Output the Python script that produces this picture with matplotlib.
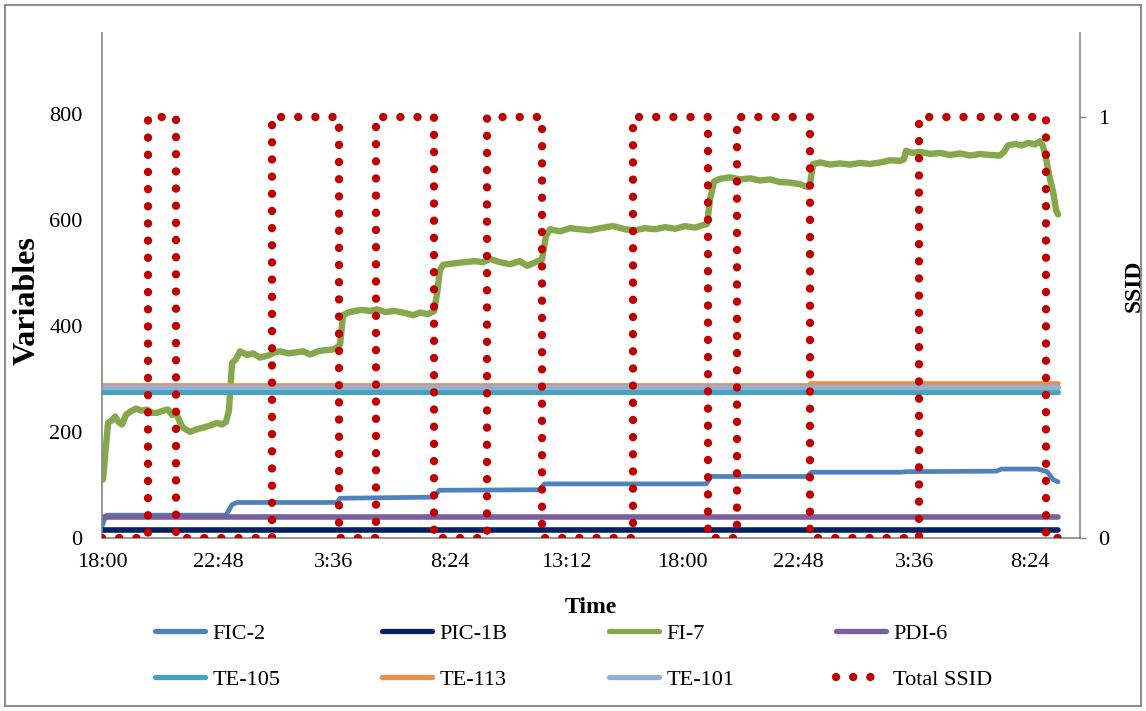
import matplotlib
matplotlib.use("Agg")
import matplotlib.pyplot as plt
from matplotlib.lines import Line2D
from matplotlib.patches import Rectangle

plt.rcParams["font.family"] = ["Liberation Serif", "DejaVu Serif"]

# time axis: hours after 18:00 on day one
tick_hours = [0, 4.8, 9.6, 14.4, 19.2, 24.0, 28.8, 33.6, 38.4]
tick_labels = ["18:00", "22:48", "3:36", "8:24", "13:12", "18:00", "22:48", "3:36", "8:24"]

# FI-7 (flow)
fi7_t = [0.04, 0.12, 0.25, 0.41, 0.54, 0.70, 0.83, 0.99, 1.16, 1.41, 1.65, 1.86, 2.07, 2.28,
         2.52, 2.73, 2.90, 3.06, 3.23, 3.35, 3.64, 3.93, 4.18, 4.47, 4.76, 4.96, 5.13, 5.25,
         5.38, 5.54, 5.71, 6.00, 6.25, 6.54, 6.87, 7.16, 7.36, 7.70, 8.03, 8.32, 8.61, 8.94,
         9.23, 9.52, 9.72, 9.85, 9.97, 10.18, 10.47, 10.76, 11.09, 11.38, 11.71, 12.12, 12.54,
         12.87, 13.16, 13.49, 13.74, 13.86, 13.98, 14.11, 14.27, 14.60, 15.02, 15.43, 15.76,
         16.05, 16.47, 16.88, 17.29, 17.58, 17.83, 18.04, 18.20, 18.37, 18.54, 18.95, 19.36,
         19.78, 20.19, 20.60, 21.14, 21.64, 22.05, 22.47, 22.88, 23.29, 23.71, 24.12, 24.53,
         24.87, 25.03, 25.16, 25.32, 25.57, 25.98, 26.40, 26.81, 27.22, 27.64, 28.05, 28.46,
         28.88, 29.17, 29.29, 29.42, 29.71, 30.12, 30.53, 30.95, 31.36, 31.78, 32.19, 32.60,
         33.02, 33.18, 33.26, 33.51, 33.84, 34.26, 34.67, 35.08, 35.50, 35.91, 36.33, 36.74,
         37.15, 37.32, 37.48, 37.77, 38.06, 38.31, 38.60, 38.81, 38.93, 39.06, 39.18, 39.35,
         39.47, 39.55]
fi7_v = [110, 150, 217, 222, 229, 218, 214, 232, 238, 244, 240, 242, 236, 236,
         240, 242, 232, 236, 218, 208, 200, 205, 208, 212, 217, 214, 219, 240,
         330, 337, 352, 345, 348, 340, 344, 350, 352, 348, 350, 352, 346, 352,
         354, 355, 359, 365, 420, 425, 428, 430, 428, 431, 426, 428, 424,
         420, 425, 422, 428, 460, 505, 515, 516, 518, 520, 522, 520,
         526, 520, 516, 522, 513, 518, 522, 525, 570, 582, 578, 584,
         582, 580, 584, 588, 582, 580, 584, 582, 586, 583, 588, 585,
         590, 592, 640, 672, 677, 680, 676, 678, 674, 676, 671, 670,
         667, 662, 668, 705, 708, 704, 706, 704, 707, 705, 708, 712,
         711, 714, 730, 726, 728, 724, 726, 722, 725, 721, 724, 722,
         721, 728, 740, 743, 740, 745, 742, 748, 738, 715, 685, 652,
         618, 610]

# FIC-2 (steps)
fic2_t = [0.0, 0.1, 0.2, 5.13, 5.38, 5.6, 9.72, 9.85, 13.74, 13.95, 18.1, 18.3, 25.0, 25.2,
          29.17, 29.35, 33.1, 33.25, 37.0, 37.2, 38.7, 39.1, 39.35, 39.55]
fic2_v = [22, 35, 43, 43, 63, 67, 67, 75, 77, 90, 91, 102, 102, 116,
          116, 124, 124, 125, 126, 130, 130, 125, 110, 106]

# flat signals
flat_t = [0.0, 39.55]
pic1b_v = [15, 15]
pdi6_v = [40, 40]
te105_v = [276, 276]
te101_v = [284, 284]
te113_t = [0.0, 29.3, 29.3, 39.55]
te113_v = [289, 289, 292, 292]

# Total SSID (0/1), value holds until the next time
ssid_t = [0.0, 1.90, 3.06, 7.03, 9.81, 11.34, 13.74, 15.93, 18.20, 21.97, 25.07, 26.27,
          29.29, 33.80, 39.06, 39.55]
ssid_v = [0, 1, 0, 1, 0, 1, 0, 1, 0, 1, 0, 1, 0, 1, 0, 0]

W, H = 1146, 711
fig = plt.figure(figsize=(W / 100, H / 100), dpi=100)
fig.patches.append(Rectangle((5 / W, 5 / H), 1 - 10 / W, 1 - 10 / H, transform=fig.transFigure,
                             fill=False, edgecolor="#8c8c8c", linewidth=1.5))

ax = fig.add_axes([102 / W, 1 - 538 / H, (1080 - 102) / W, (538 - 33) / H])
ax2 = ax.twinx()

c_fic2 = "#4F81BD"
c_pic = "#002060"
c_fi7 = "#86A84C"
c_pdi = "#7A5F9E"
c_te105 = "#44A3BC"
c_te113 = "#E8904A"
c_te101 = "#93AFD6"
c_ssid = "#C00000"

ax.plot(fic2_t, fic2_v, color=c_fic2, lw=3.4, solid_capstyle="round")
ax.plot(flat_t, pic1b_v, color=c_pic, lw=4.0, solid_capstyle="round")
ax.plot(fi7_t, fi7_v, color=c_fi7, lw=4.6, solid_joinstyle="round", solid_capstyle="round")
ax.plot(flat_t, pdi6_v, color=c_pdi, lw=4.0, solid_capstyle="round")
ax.plot(flat_t, te105_v, color=c_te105, lw=3.6, solid_capstyle="round")
ax.plot(te113_t, te113_v, color=c_te113, lw=3.4, solid_capstyle="round")
ax.plot(flat_t, te101_v, color=c_te101, lw=3.8, solid_capstyle="round")

dots = (0, (0.01, 2.05))
ax2.plot(ssid_t, ssid_v, color=c_ssid, lw=6.0, linestyle=dots, dash_capstyle="round",
         drawstyle="steps-post")

ax.set_xlim(0, 40.46)
ax.set_ylim(0, 952)
ax2.set_ylim(0, 1.2)

ax.set_xticks(tick_hours)
ax.set_xticklabels(tick_labels)
ax.set_yticks([0, 200, 400, 600, 800])
ax2.set_yticks([0, 1])

ax.tick_params(axis="y", length=0, pad=14, labelsize=16)
ax.tick_params(axis="x", length=0, pad=11, labelsize=16)
ax2.tick_params(axis="y", length=4.3, width=1, color="#868686", direction="out", pad=9, labelsize=16)

for a in (ax, ax2):
    a.spines["top"].set_visible(False)
    for s in ("left", "right", "bottom"):
        a.spines[s].set_color("#868686")
        a.spines[s].set_linewidth(1.2)
ax.spines["right"].set_visible(False)
ax2.spines["left"].set_visible(False)
ax2.spines["bottom"].set_visible(False)

ax.set_xlabel("Time", fontsize=17, fontweight="bold", labelpad=18)
ax.set_ylabel("Variables", fontsize=23, fontweight="bold")
ax.yaxis.set_label_coords(-60 / 978, 0.47)
ax2.set_ylabel("SSID", fontsize=17, fontweight="bold", labelpad=10)

handles = [
    Line2D([], [], color=c_fic2, lw=3.8, solid_capstyle="round"),
    Line2D([], [], color=c_te105, lw=3.8, solid_capstyle="round"),
    Line2D([], [], color=c_pic, lw=3.8, solid_capstyle="round"),
    Line2D([], [], color=c_te113, lw=3.8, solid_capstyle="round"),
    Line2D([], [], color=c_fi7, lw=3.8, solid_capstyle="round"),
    Line2D([], [], color=c_te101, lw=3.8, solid_capstyle="round"),
    Line2D([], [], color=c_pdi, lw=3.8, solid_capstyle="round"),
    Line2D([], [], color=c_ssid, lw=6.0, linestyle=dots, dash_capstyle="round"),
]
labels = ["FIC-2", "TE-105", "PIC-1B", "TE-113", "FI-7", "TE-101", "PDI-6", "Total SSID"]
fig.legend(handles, labels, ncol=4, loc="upper left", bbox_to_anchor=(155 / W, 1 - 623 / H),
           frameon=False, fontsize=16, handlelength=2.25, handletextpad=0.35,
           columnspacing=4.55, labelspacing=1.15, borderpad=0, borderaxespad=0)

fig.savefig("out.png", dpi=100)
